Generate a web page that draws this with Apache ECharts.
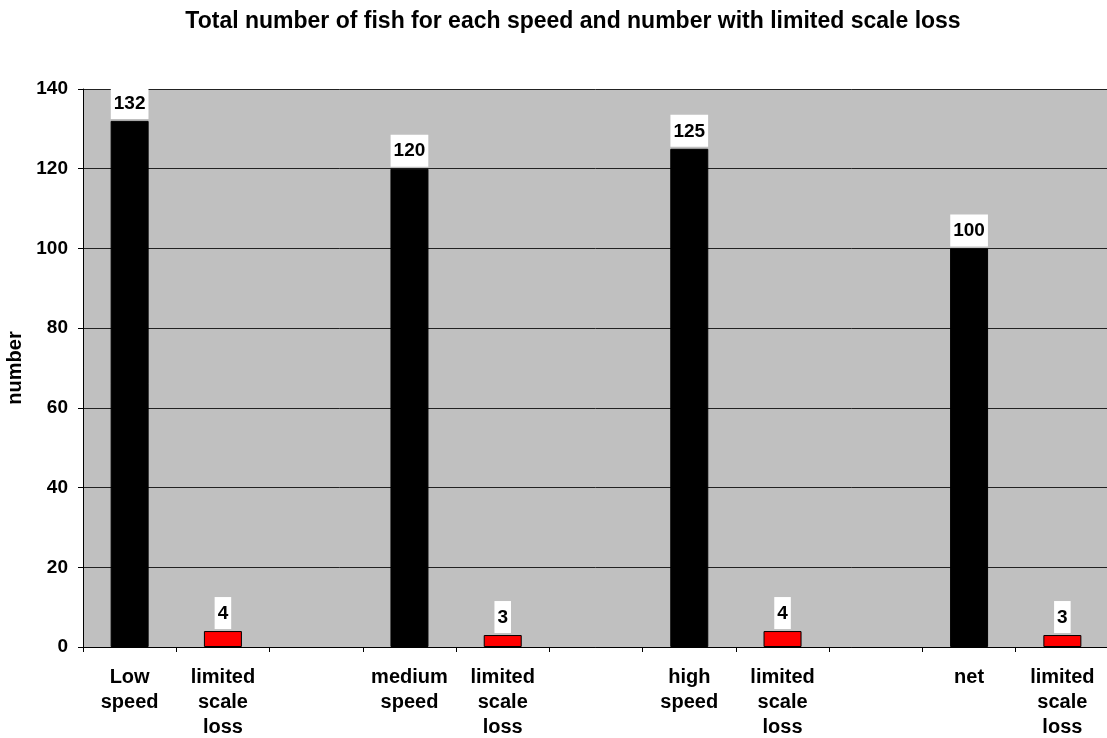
<!DOCTYPE html>
<html><head><meta charset="utf-8">
<script src="https://cdn.jsdelivr.net/npm/echarts@6/dist/echarts.min.js"></script>
<style>html,body{margin:0;padding:0;background:#fff}#c{width:1107px;height:738px}</style>
</head><body><div id="c"></div>
<script>
const categories = ['Low\nspeed','limited\nscale\nloss','','medium\nspeed','limited\nscale\nloss','','high\nspeed','limited\nscale\nloss','','net','limited\nscale\nloss'];
const totalFish = [132, '-', '-', 120, '-', '-', 125, '-', '-', 100, '-'];
const limitedLoss = ['-', 4, '-', '-', 3, '-', '-', 4, '-', '-', 3];
const yTicks = [0, 20, 40, 60, 80, 100, 120, 140];

const font = 'Arial, "Liberation Sans", sans-serif';
const lbl = {
  show: true, position: 'top', distance: 2,
  color: '#000', fontFamily: font, fontWeight: 'bold', fontSize: 19,
  backgroundColor: '#fff', padding: [7, 3, 6, 3]
};
const chart = echarts.init(document.getElementById('c'));
chart.setOption({
  animation: false,
  title: {
    text: 'Total number of fish for each speed and number with limited scale loss',
    left: 568, textAlign: 'center', top: 5,
    textStyle: {fontFamily: font, fontWeight: 'bold', fontSize: 23, color: '#000'}
  },
  grid: {left: 83, top: 89, width: 1026, height: 558, containLabel: false, outerBoundsMode: 'none',
         backgroundColor: '#c0c0c0', show: true, borderWidth: 0},
  xAxis: {
    type: 'category', data: categories,
    axisLine: {lineStyle: {color: '#000', width: 1}},
    axisTick: {show: true, length: 5, lineStyle: {color: '#000'}},
    axisLabel: {interval: 0, color: '#000', fontFamily: font, fontWeight: 'bold', fontSize: 20, lineHeight: 25, margin: 18}
  },
  yAxis: {
    type: 'value', min: yTicks[0], max: yTicks[yTicks.length - 1], interval: 20,
    name: 'number', nameLocation: 'middle', nameGap: 50, nameRotate: 90,
    nameTextStyle: {fontFamily: font, fontWeight: 'bold', fontSize: 20, color: '#000'},
    axisLine: {show: true, lineStyle: {color: '#000'}},
    axisTick: {show: true, length: 5, lineStyle: {color: '#000'}},
    axisLabel: {color: '#000', fontFamily: font, fontWeight: 'bold', fontSize: 19, margin: 15},
    splitLine: {show: true, lineStyle: {color: '#222', width: 1}}
  },
  series: [
    {type: 'bar', data: totalFish, barWidth: 38, barGap: '-100%',
     itemStyle: {color: '#000', borderColor: '#000', borderWidth: 1}, label: lbl},
    {type: 'bar', data: limitedLoss, barWidth: 38,
     itemStyle: {color: '#ff0000', borderColor: '#000', borderWidth: 1}, label: lbl}
  ]
});
</script></body></html>
